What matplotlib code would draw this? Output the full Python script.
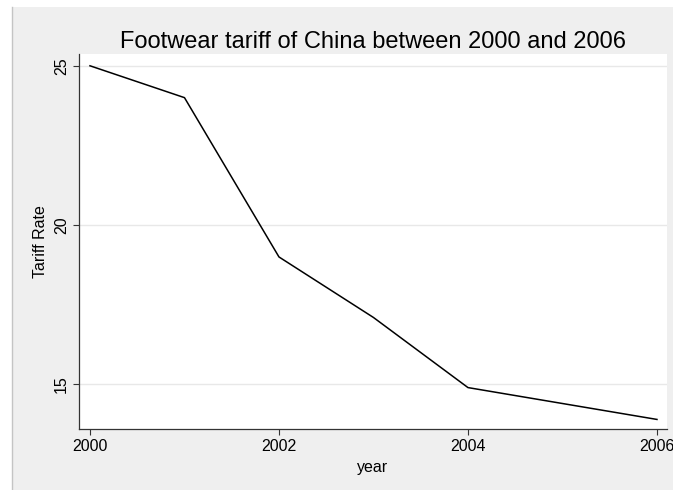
import matplotlib.pyplot as plt
from matplotlib.patches import Rectangle
from matplotlib.lines import Line2D

# Footwear tariff rates, 2000-2006
years = [2000, 2001, 2002, 2003, 2004, 2005, 2006]
tariff_rate = [25.0, 24.0, 19.0, 17.1, 14.9, 14.4, 13.9]

x_ticks = [2000, 2002, 2004, 2006]
y_ticks = [15, 20, 25]

plt.rcParams["font.family"] = ["Liberation Sans", "DejaVu Sans"]

fig = plt.figure(figsize=(6.73, 4.90), dpi=100)
fig.patch.set_facecolor("white")

# light grey graph region with a thin border on the left
fig.patches.append(Rectangle((12 / 673, 0), 1 - 12 / 673, 1 - 7 / 490,
                             transform=fig.transFigure, facecolor="#efefef",
                             edgecolor="none", zorder=-10))
fig.lines.append(Line2D([12 / 673, 12 / 673], [0, 1 - 7 / 490],
                        transform=fig.transFigure, color="#c4c4c4", lw=1.0,
                        zorder=-9))

ax = fig.add_axes([79.3 / 673, 1 - 429 / 490, 587.4 / 673, 375 / 490])
ax.set_facecolor("white")

ax.plot(years, tariff_rate, color="black", lw=1.1)

ax.set_xlim(1999.887, 2006.103)
ax.set_ylim(13.6, 25.37)
ax.set_xticks(x_ticks)
ax.set_yticks(y_ticks)
ax.set_yticklabels([str(v) for v in y_ticks], rotation=90, va="center")

ax.grid(axis="y", color="#e8e8e8", lw=1.0)
ax.set_axisbelow(True)

for side in ["top", "right"]:
    ax.spines[side].set_visible(False)
for side in ["left", "bottom"]:
    ax.spines[side].set_color("#333333")
    ax.spines[side].set_linewidth(0.9)

ax.tick_params(axis="both", length=4.5, width=0.8, color="#333333",
               labelsize=11.5, pad=3)

ax.set_xlabel("year", fontsize=11.5, labelpad=4)
ax.set_ylabel("Tariff Rate", fontsize=11.5, labelpad=4)
fig.text((79.3 + 293.7) / 673, 1 - 42 / 490,
         "Footwear tariff of China between 2000 and 2006",
         fontsize=17, ha="center", va="center")

fig.savefig("out.png", dpi=100)
